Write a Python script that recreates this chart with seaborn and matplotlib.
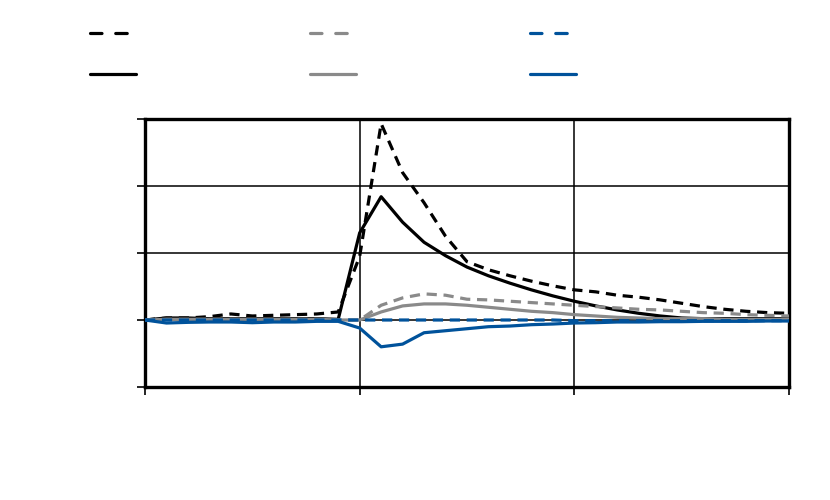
import numpy as np
import pandas as pd
import matplotlib
matplotlib.use("Agg")
import matplotlib.pyplot as plt
import seaborn as sns

# Periods 0..30, ticks every 10
periods = list(range(31))

# Values (y grid: -1 .. 3)
black_dashed = [0, 0.03, 0.03, 0.05, 0.09, 0.06, 0.07, 0.08, 0.09, 0.12,
                0.95, 2.93, 2.20, 1.75, 1.25, 0.87, 0.75, 0.66, 0.58, 0.51,
                0.45, 0.42, 0.37, 0.34, 0.30, 0.25, 0.20, 0.16, 0.13, 0.11, 0.10]
black_solid = [0, 0.03, 0.03, 0.02, 0.02, 0.02, 0.02, 0.02, 0.02, 0.01,
               1.30, 1.84, 1.46, 1.16, 0.96, 0.79, 0.66, 0.55, 0.45, 0.36,
               0.28, 0.21, 0.15, 0.10, 0.06, 0.03, 0.02, 0.02, 0.02, 0.02, 0.02]
grey_dashed = [0, 0.01, 0.01, 0.01, 0.01, 0.01, 0.01, 0.01, 0.01, 0.0,
               0.0, 0.22, 0.33, 0.39, 0.37, 0.31, 0.30, 0.28, 0.26, 0.24,
               0.22, 0.20, 0.18, 0.16, 0.15, 0.13, 0.11, 0.10, 0.08, 0.07, 0.06]
grey_solid = [0, 0.01, 0.01, 0.01, 0.01, 0.01, 0.01, 0.01, 0.01, 0.0,
              0.0, 0.12, 0.21, 0.24, 0.24, 0.22, 0.19, 0.16, 0.13, 0.11,
              0.08, 0.06, 0.04, 0.03, 0.02, 0.02, 0.02, 0.01, 0.01, 0.01, 0.01]
blue_dashed = [0] * 20 + [-0.01] * 11
blue_solid = [0, -0.045, -0.035, -0.03, -0.03, -0.04, -0.03, -0.03, -0.02, -0.02,
              -0.12, -0.40, -0.36, -0.19, -0.16, -0.13, -0.10, -0.09, -0.07, -0.06,
              -0.045, -0.04, -0.03, -0.03, -0.025, -0.025, -0.02, -0.02, -0.02, -0.015, -0.015]

series = {
    "black_dashed": black_dashed, "black_solid": black_solid,
    "grey_dashed": grey_dashed, "grey_solid": grey_solid,
    "blue_dashed": blue_dashed, "blue_solid": blue_solid,
}
colors = {"black": "#000000", "grey": "#8a8a8a", "blue": "#00529b"}

df = pd.concat(
    [pd.DataFrame({"t": periods, "val": v, "series": k}) for k, v in series.items()],
    ignore_index=True,
)

sns.set_style("white")
fig = plt.figure(figsize=(8.3, 5), dpi=100)
ax = fig.add_axes([145 / 830, 113 / 500, 644 / 830, 268 / 500])

palette = {k: colors[k.split("_")[0]] for k in series}
dash_map = {k: ((3.2, 2.1) if k.endswith("dashed") else "") for k in series}
sns.lineplot(data=df, x="t", y="val", hue="series", style="series",
             palette=palette, dashes=dash_map, linewidth=2.3, ax=ax,
             legend=False, zorder=3)

ax.set_xlim(0, 30)
ax.set_ylim(-1, 3)
ax.set_xticks([0, 10, 20, 30])
ax.set_yticks([-1, 0, 1, 2, 3])
ax.set_xticklabels([])
ax.set_yticklabels([])
ax.set_xlabel("")
ax.set_ylabel("")
ax.grid(True, color="black", linewidth=1.1)
ax.tick_params(left=True, bottom=True, direction="out", length=6,
               width=1.2, color="black")
for s in ax.spines.values():
    s.set_visible(True)
    s.set_color("black")
    s.set_linewidth(2.4)

# legend: three columns, no label text
handles = []
for k in ["black_dashed", "black_solid", "grey_dashed", "grey_solid",
          "blue_dashed", "blue_solid"]:
    ls = (0, (3.6, 4.3)) if k.endswith("dashed") else "-"
    h, = ax.plot([], [], color=palette[k], linestyle=ls, linewidth=2.3,
                 solid_capstyle="round", dash_capstyle="round")
    handles.append(h)
fig.legend(handles, [""] * 6, ncol=3, frameon=False, loc="upper left",
           bbox_to_anchor=(84 / 830, 1 - 21 / 500), fontsize=10,
           handlelength=3.35, handletextpad=0.0, columnspacing=12.5,
           labelspacing=1.94, borderaxespad=0)

fig.savefig("out.png", dpi=100)
